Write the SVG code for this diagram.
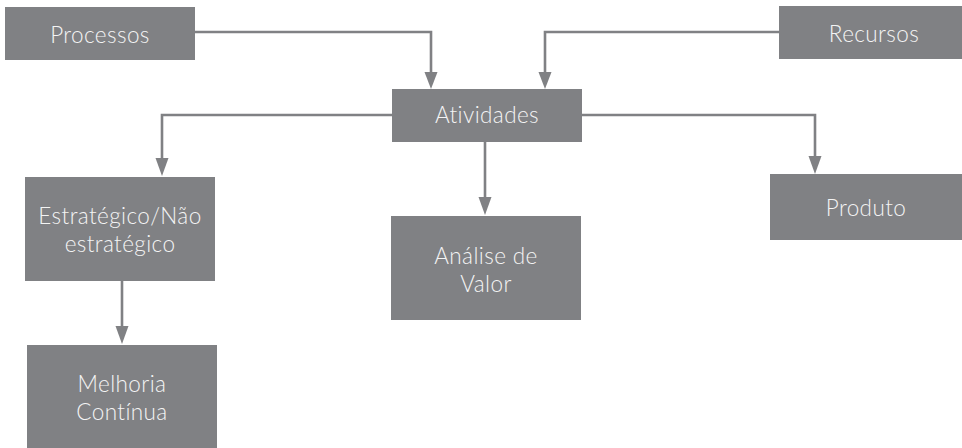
<svg xmlns="http://www.w3.org/2000/svg" width="962" height="448" viewBox="0 0 962 448">
<style>
.box{fill:#808184}
.t{fill:#f4f4f4;font-family:Lato,"Open Sans","Liberation Sans",sans-serif;font-weight:300;font-size:22.5px;letter-spacing:0.4px;text-anchor:middle}
.c{fill:none;stroke:#808184;stroke-width:2.6}
.h{fill:#808184}
</style>
<rect width="962" height="448" fill="#ffffff"/>
<g id="connectors">
<path class="c" d="M195 32H431V74"/>
<polygon class="h" points="424.5,72 437.5,72 431,89"/>
<path class="c" d="M779 32H545V74"/>
<polygon class="h" points="538.5,72 551.5,72 545,89"/>
<path class="c" d="M392 115H162V160"/>
<polygon class="h" points="155.5,158 168.5,158 162,176"/>
<path class="c" d="M582 115H815V158"/>
<polygon class="h" points="808.5,156 821.5,156 815,174"/>
<path class="c" d="M485 142V199"/>
<polygon class="h" points="478.5,197 491.5,197 485,215"/>
<path class="c" d="M122 281V328"/>
<polygon class="h" points="115.5,326 128.5,326 122,344"/>
</g>
<g id="processos"><rect class="box" x="5" y="7" width="190" height="53"/><text class="t" x="100" y="43">Processos</text></g>
<g id="recursos"><rect class="box" x="779" y="6" width="190" height="53"/><text class="t" x="874" y="42">Recursos</text></g>
<g id="atividades"><rect class="box" x="392" y="89" width="190" height="53"/><text class="t" x="487" y="123">Atividades</text></g>
<g id="estrategico"><rect class="box" x="25" y="177" width="190" height="104"/><text class="t" x="120" y="224">Estratégico/Não</text><text class="t" x="120" y="252">estratégico</text></g>
<g id="analise"><rect class="box" x="391" y="216" width="190" height="104"/><text class="t" x="486" y="264">Análise de</text><text class="t" x="486" y="292">Valor</text></g>
<g id="produto"><rect class="box" x="770" y="174" width="192" height="66"/><text class="t" x="866" y="216">Produto</text></g>
<g id="melhoria"><rect class="box" x="27" y="345" width="190" height="103"/><text class="t" x="122" y="392">Melhoria</text><text class="t" x="122" y="420">Contínua</text></g>
</svg>
